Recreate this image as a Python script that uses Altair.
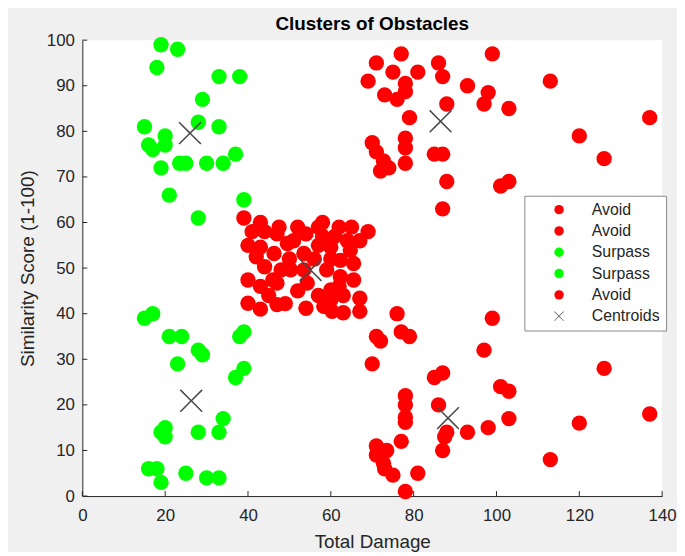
import numpy as np
import pandas as pd
import altair as alt

# ---------------- data ----------------
# cluster 1 (Avoid) - centre
c1_x = [39, 43, 47.5, 58, 62, 65, 69, 67, 54, 40, 47, 43, 49.5, 42, 44, 50.3, 40, 43, 47, 40,
        43, 49, 54, 54.3, 58.3, 60.3, 63, 67, 67, 65.5, 65.5, 64.7, 60, 59, 60, 62.3, 62.3,
        53.5, 53.5, 46.3, 48, 46, 57, 51, 56, 58, 61, 63, 57, 52, 45, 50, 44, 41, 52, 60, 64,
        57, 60, 62, 47]
c1_y = [61, 60, 59, 60, 59, 59, 58, 56, 57.5, 55, 57.5, 54.6, 55.4, 52.5, 50.3, 49.6, 47.4, 46,
        46.7, 42.3, 41, 42.2, 41.2, 46.7, 41.6, 40.5, 40.2, 40.5, 43.4, 47.4, 51, 53.9, 54.6,
        49.6, 45.2, 48.1, 51.7, 53.2, 49.6, 53.2, 49.6, 47.4, 59, 56, 52, 57, 57, 44, 44, 45,
        44, 52, 58, 58, 59, 43, 56, 55, 52, 46, 42]
# cluster 2 (Avoid) - top right
c2_x = [77, 71, 75, 81, 69, 86, 87, 78, 78, 73, 76, 93, 99, 98, 97, 103, 88, 79, 70, 71, 72.7,
        72, 74, 78, 78, 78, 85, 87, 88, 101, 103, 87, 113, 137, 120, 126]
c2_y = [97, 95, 93, 93, 91, 95, 92, 90.5, 88.7, 88, 87, 90, 97, 88.5, 86, 85, 86, 83, 77.5,
        75.5, 73.5, 71.3, 72, 78.5, 76.4, 73, 75, 75, 69, 68, 69, 63, 91, 83, 79, 74]
# cluster 3 (Surpass) - top left
c3_x = [19, 23, 18, 33, 38, 29, 15, 28, 33, 20, 16, 17, 20, 37, 19, 23.5, 25, 30, 34, 21, 39, 28]
c3_y = [99, 98, 94, 92, 92, 87, 81, 82, 81, 79, 77, 76, 77, 75, 72, 73, 73, 73, 73, 66, 65, 61]
# cluster 4 (Surpass) - bottom left
c4_x = [15, 17, 21, 24, 28, 29, 23, 38, 39, 37, 39, 20, 19, 20, 28, 34, 33, 16, 18, 19, 25, 30, 33]
c4_y = [39, 40, 35, 35, 32, 31, 29, 35, 36, 26, 28, 15, 14, 13, 14, 17, 14, 6, 6, 3, 5, 4, 4]
# cluster 5 (Avoid) - bottom right
c5_x = [76, 71, 72, 77, 79, 70, 99, 97, 85, 87, 101, 103, 78, 78, 78, 78, 86, 88, 87.5, 87, 93,
        98, 103, 77, 71, 71, 73.5, 73, 75, 72.7, 81, 78, 126, 137, 120, 113]
c5_y = [40, 35, 34, 36, 35, 29, 39, 32, 26, 27, 24, 23, 22, 20, 17.3, 16.2, 20, 14, 13, 10, 14,
        15, 17, 12, 11, 9, 10, 6, 4.6, 7.2, 5, 1, 28, 18, 16, 8]

centroid_x = [55.1, 86.5, 26.0, 26.3, 88.3]
centroid_y = [49.6, 82.2, 79.6, 20.9, 17.1]

group_keys = ["c1", "c2", "c3", "c4", "c5", "cent"]
group_labels = ["Avoid", "Avoid", "Surpass", "Surpass", "Avoid", "Centroids"]
group_colors = ["#ff0000", "#ff0000", "#00ff00", "#00ff00", "#ff0000", "#4a4a4a"]

x_ticks = [0, 20, 40, 60, 80, 100, 120, 140]
y_ticks = [0, 10, 20, 30, 40, 50, 60, 70, 80, 90, 100]

# ---------------- tables ----------------
frames = []
for key, xs_, ys_ in [("c1", c1_x, c1_y), ("c2", c2_x, c2_y), ("c3", c3_x, c3_y),
                      ("c4", c4_x, c4_y), ("c5", c5_x, c5_y)]:
    frames.append(pd.DataFrame({"x": xs_, "y": ys_, "grp": key}))
pts = pd.concat(frames, ignore_index=True)
cents = pd.DataFrame({"x": centroid_x, "y": centroid_y, "grp": "cent"})
xt = pd.DataFrame({"x": x_ticks})
yt = pd.DataFrame({"y": y_ticks})

# thin "x" polygon as a custom symbol path
w = 0.05
plus = [(-w, -1), (w, -1), (w, -w), (1, -w), (1, w), (w, w), (w, 1), (-w, 1), (-w, w),
        (-1, w), (-1, -w), (-w, -w)]
rot = [(px - py, px + py) for px, py in plus]
xpath = "M" + "L".join(f"{a:.4f},{b:.4f}" for a, b in rot) + "Z"

shape_range = ["circle"] * 5 + [xpath]

# legend label expression
expr = "'Avoid'"
for k, lab in zip(group_keys, group_labels):
    expr = f"datum.label == '{k}' ? '{lab}' : ({expr})"

FONT = "Liberation Sans"
AX = "#262626"

xs = alt.Scale(domain=[0, 140], nice=False, zero=False)
ys = alt.Scale(domain=[0, 100], nice=False, zero=False)
x_axis = alt.Axis(values=x_ticks, title="Total Damage", grid=False, ticks=False,
                  labelPadding=12, labelFlush=False, titleX=292.5, titleY=46,
                  titleBaseline="middle", titleAlign="center", titleFontWeight="normal")
y_axis = alt.Axis(values=y_ticks, title="Similarity Score (1-100)", grid=False, ticks=False,
                  labelPadding=8, labelFlush=False, titleX=-55, titleY=230, titleAngle=-90,
                  titleBaseline="middle", titleAlign="center", titleFontWeight="normal")

X = alt.X("x:Q", scale=xs, axis=x_axis)
Y = alt.Y("y:Q", scale=ys, axis=y_axis)

color = alt.Color("grp:N", scale=alt.Scale(domain=group_keys, range=group_colors),
                  legend=alt.Legend(title=None, orient="none", legendX=446, legendY=157,
                                    labelExpr=expr, fillColor="white", strokeColor="#888888",
                                    padding=6, symbolSize=90, symbolOffset=21,
                                    labelOffset=25, rowPadding=5.5, labelFontSize=16,
                                    labelFont=FONT, labelColor=AX, symbolStrokeWidth=0))
shape = alt.Shape("grp:N", scale=alt.Scale(domain=group_keys, range=shape_range))

ytick_layer = alt.Chart(yt).mark_rule(color=AX, strokeWidth=1).encode(
    y=Y, x=alt.value(0), x2=alt.value(5))
xtick_layer = alt.Chart(xt).mark_rule(color=AX, strokeWidth=1).encode(
    x=X, y=alt.value(460), y2=alt.value(455))

points = alt.Chart(pts).mark_point(filled=True, size=240, opacity=1, strokeWidth=0).encode(
    x=X, y=Y, color=color, shape=shape)
centroids = alt.Chart(cents).mark_point(filled=True, size=484, opacity=1, strokeWidth=0).encode(
    x=X, y=Y, color=color, shape=shape)

chart = alt.layer(ytick_layer, xtick_layer, points, centroids).properties(
    width=585, height=460,
    title=alt.TitleParams("Clusters of Obstacles", fontSize=19, fontWeight="bold",
                          font=FONT, color="black", anchor="middle", offset=5,
                          frame="group", dy=8),
    autosize=alt.AutoSizeParams(type="none"),
    padding={"left": 75, "top": 30, "right": 15, "bottom": 54},
    background="#f0f0f0",
).configure_view(fill="white", strokeWidth=0).configure_axis(
    domainColor=AX, domainWidth=1, labelColor=AX, labelFontSize=17, labelFont=FONT,
    titleColor=AX, titleFontSize=19, titleFont=FONT)

chart.save("out.html", embed_options={"renderer": "svg", "actions": False})
